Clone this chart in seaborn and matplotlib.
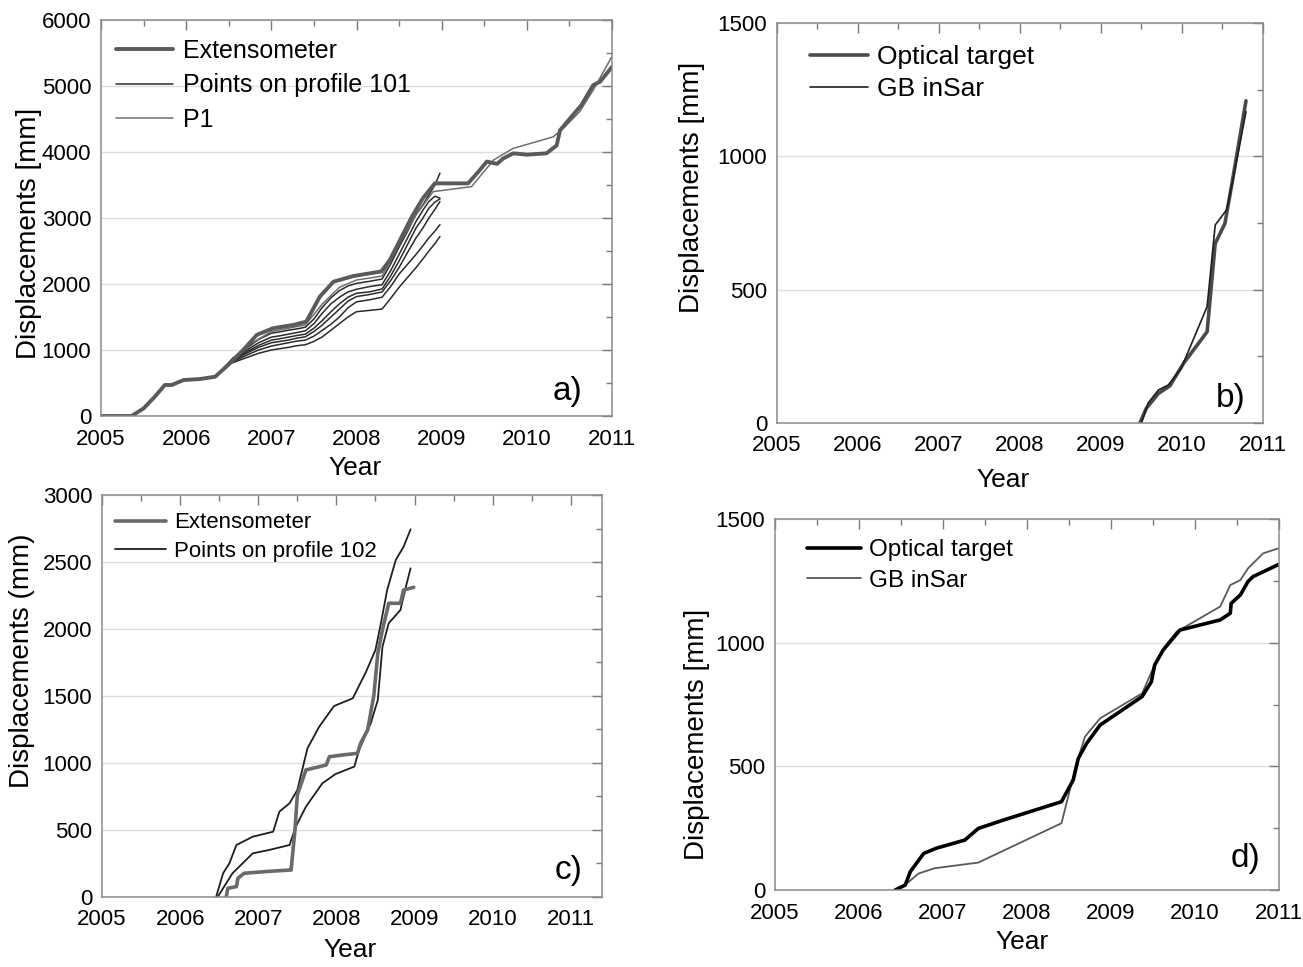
import matplotlib
matplotlib.use("Agg")
import matplotlib.pyplot as plt
import seaborn as sns
from matplotlib.ticker import MultipleLocator
from matplotlib.lines import Line2D

sns.set_theme(style="white")
plt.rcParams["font.family"] = ["Liberation Sans", "DejaVu Sans"]
plt.rcParams["text.color"] = "black"
plt.rcParams["axes.labelcolor"] = "black"
plt.rcParams["xtick.color"] = "black"
plt.rcParams["ytick.color"] = "black"

# ---------------- panel a: extensometer, profile 101, P1 ----------------
ext_a_year = [2005.00, 2005.36, 2005.50, 2005.63, 2005.75, 2005.83, 2005.97, 2006.16,
              2006.34, 2006.49, 2006.67, 2006.83, 2007.02, 2007.26, 2007.41, 2007.57,
              2007.73, 2007.96, 2008.29, 2008.39, 2008.53, 2008.65, 2008.78, 2008.92,
              2009.31, 2009.43, 2009.53, 2009.65, 2009.72, 2009.84, 2010.00, 2010.23,
              2010.35, 2010.39, 2010.54, 2010.64, 2010.78, 2010.86, 2011.00]
ext_a_val = [0, 0, 115, 290, 470, 470, 545, 560,
             595, 770, 1000, 1230, 1330, 1380, 1430, 1810,
             2035, 2120, 2190, 2360, 2715, 3020, 3300, 3525,
             3525, 3700, 3855, 3820, 3900, 3980, 3960, 3980,
             4100, 4330, 4560, 4710, 5015, 5065, 5290]

prof101_year = [2006.45, 2006.55, 2006.70, 2006.85, 2007.00, 2007.10, 2007.20, 2007.30,
                2007.40, 2007.50, 2007.60, 2007.70, 2007.80, 2007.90, 2008.00, 2008.15,
                2008.30, 2008.40, 2008.50, 2008.60, 2008.70, 2008.78, 2008.85, 2008.92,
                2008.98]
prof101_1 = [740, 880, 1020, 1160, 1255, 1275, 1300, 1320, 1345, 1470, 1650, 1790, 1900,
             1970, 2010, 2040, 2075, 2300, 2560, 2800, 3060, 3200, 3350, 3500, 3680]
prof101_2 = [740, 860, 990, 1110, 1195, 1215, 1240, 1265, 1290, 1400, 1560, 1700, 1800,
             1880, 1920, 1960, 1990, 2200, 2450, 2700, 2950, 3120, 3250, 3330, 3300]
prof101_3 = [740, 850, 965, 1070, 1150, 1170, 1195, 1220, 1240, 1330, 1450, 1580, 1700,
             1800, 1860, 1880, 1925, 2120, 2350, 2600, 2850, 3000, 3150, 3240, 3290]
prof101_4 = [740, 840, 945, 1040, 1110, 1130, 1150, 1180, 1200, 1280, 1380, 1500, 1620,
             1740, 1810, 1840, 1880, 2050, 2250, 2480, 2700, 2850, 3000, 3130, 3250]
prof101_5 = [740, 825, 915, 1000, 1060, 1085, 1110, 1135, 1150, 1210, 1300, 1390, 1500,
             1640, 1730, 1760, 1800, 1960, 2150, 2300, 2450, 2580, 2700, 2800, 2900]
prof101_6 = [740, 810, 880, 950, 1000, 1020, 1040, 1065, 1080, 1130, 1200, 1300, 1400,
             1500, 1580, 1600, 1620, 1780, 1950, 2100, 2250, 2380, 2500, 2610, 2720]

p1_year = [2005.00, 2005.36, 2005.50, 2005.63, 2005.75, 2005.83, 2005.97, 2006.16,
           2006.34, 2006.49, 2006.70, 2007.00, 2007.40, 2007.60, 2007.80, 2008.00,
           2008.30, 2008.50, 2008.70, 2008.90, 2009.35, 2009.61, 2009.84, 2010.31,
           2010.43, 2010.62, 2010.78, 2011.00]
p1_val = [0, 0, 115, 290, 470, 470, 545, 560,
          595, 770, 1050, 1280, 1380, 1700, 1950, 2060,
          2120, 2600, 3050, 3400, 3475, 3880, 4055, 4230,
          4360, 4610, 4940, 5450]

# ---------------- panel b: optical target vs GB InSAR ----------------
opt_b_year = [2009.48, 2009.56, 2009.71, 2009.85, 2010.02, 2010.31, 2010.41, 2010.53, 2010.61, 2010.79]
opt_b_val = [0, 55, 111, 139, 224, 342, 673, 748, 886, 1208]
gb_b_year = [2009.50, 2009.58, 2009.71, 2009.83, 2009.99, 2010.31, 2010.41, 2010.55, 2010.63, 2010.79]
gb_b_val = [0, 74, 124, 142, 205, 436, 742, 799, 911, 1167]

# ---------------- panel c: extensometer, profile 102 ----------------
ext_c_year = [2006.59, 2006.61, 2006.72, 2006.74, 2006.82, 2007.10, 2007.40, 2007.42,
              2007.47, 2007.50, 2007.61, 2007.78, 2007.87, 2007.91, 2008.08, 2008.27,
              2008.31, 2008.40, 2008.48, 2008.53, 2008.59, 2008.67, 2008.82, 2008.86, 2008.99]
ext_c_val = [0, 65, 77, 140, 177, 190, 201, 201,
             500, 761, 948, 972, 985, 1047, 1060, 1072,
             1147, 1246, 1507, 1818, 1993, 2192, 2192, 2291, 2311]

prof102_1_year = [2006.46, 2006.55, 2006.63, 2006.72, 2006.93, 2007.19, 2007.27, 2007.40,
                  2007.50, 2007.63, 2007.78, 2007.97, 2008.21, 2008.38, 2008.50, 2008.57,
                  2008.65, 2008.76, 2008.86, 2008.95]
prof102_1_val = [0, 177, 251, 388, 450, 487, 637, 699,
                 798, 1110, 1271, 1425, 1483, 1681, 1843, 2043,
                 2291, 2515, 2614, 2744]
prof102_2_year = [2006.48, 2006.67, 2006.93, 2007.14, 2007.40, 2007.48, 2007.61, 2007.82,
                  2007.99, 2008.23, 2008.29, 2008.44, 2008.53, 2008.59, 2008.67, 2008.82,
                  2008.89, 2008.95]
prof102_2_val = [0, 177, 326, 351, 388, 525, 674, 848,
                 918, 973, 1097, 1296, 1470, 1868, 2043, 2142,
                 2316, 2453]

# ---------------- panel d: optical target vs GB InSAR ----------------
opt_d_year = [2006.43, 2006.55, 2006.61, 2006.77, 2006.92, 2007.26, 2007.42, 2007.72,
              2008.41, 2008.55, 2008.61, 2008.71, 2008.87, 2009.37, 2009.48, 2009.52,
              2009.62, 2009.82, 2010.30, 2010.42, 2010.43, 2010.54, 2010.63, 2010.69, 2011.00]
opt_d_val = [0, 20, 74, 148, 169, 202, 249, 283,
             357, 445, 532, 593, 667, 782, 842, 910,
             970, 1051, 1092, 1119, 1159, 1193, 1247, 1267, 1317]
gb_d_year = [2006.43, 2006.57, 2006.71, 2006.90, 2007.42, 2008.41, 2008.59, 2008.69,
             2008.87, 2009.37, 2009.51, 2009.64, 2009.78, 2010.30, 2010.42, 2010.54,
             2010.63, 2010.81, 2011.00]
gb_d_val = [0, 27, 67, 88, 111, 270, 512, 620,
            694, 795, 903, 984, 1044, 1146, 1233, 1253,
            1300, 1361, 1382]

YEAR_TICKS = [2005, 2006, 2007, 2008, 2009, 2010, 2011]


def line(ax, x, y, color, lw):
    sns.lineplot(x=x, y=y, ax=ax, color=color, linewidth=lw, sort=False,
                 estimator=None, legend=False, label="_nolegend_")


def style(ax, xmax, ymax, ymajor, yminor, ylabel, ylab_xy, xlab_xy):
    ax.set_xlim(2005, xmax)
    ax.set_ylim(0, ymax)
    ax.set_xticks(YEAR_TICKS)
    ax.set_xticklabels([str(t) for t in YEAR_TICKS])
    ax.xaxis.set_minor_locator(MultipleLocator(0.5))
    ax.yaxis.set_major_locator(MultipleLocator(ymajor))
    ax.yaxis.set_minor_locator(MultipleLocator(yminor))
    ax.tick_params(which="both", direction="in", top=True, right=True,
                   color="#7a7a7a", labelsize=16, labelcolor="black")
    ax.tick_params(which="major", length=7, width=1)
    ax.tick_params(which="minor", length=4, width=1)
    ax.tick_params(axis="x", pad=9)
    ax.tick_params(axis="y", pad=7)
    ax.grid(axis="y", which="major", color="#dedede", linewidth=1)
    ax.grid(axis="x", visible=False)
    for s in ax.spines.values():
        s.set_color("#8a8a8a")
        s.set_linewidth(1.1)
    ax.set_ylabel(ylabel, fontsize=20)
    ax.yaxis.set_label_coords(*ylab_xy)
    ax.yaxis.label.set_verticalalignment("center")
    ax.set_xlabel("Year", fontsize=19)
    ax.xaxis.set_label_coords(*xlab_xy)
    ax.xaxis.label.set_verticalalignment("center")


fig = plt.figure(figsize=(13.03, 9.67), dpi=100)
ax_a = fig.add_axes([0.0775, 0.5698, 0.3922, 0.4095])
ax_b = fig.add_axes([0.5963, 0.5626, 0.3730, 0.4137])
ax_c = fig.add_axes([0.0783, 0.0724, 0.3837, 0.4157])
ax_d = fig.add_axes([0.5948, 0.0796, 0.3868, 0.3837])

# panel a
ext_col_a, prof_col, p1_col = "#5a5a5a", "#2b2b2b", "#6e6e6e"
for vals in [prof101_1, prof101_2, prof101_3, prof101_4, prof101_5, prof101_6]:
    line(ax_a, prof101_year, vals, prof_col, 1.1)
line(ax_a, p1_year, p1_val, p1_col, 1.1)
line(ax_a, ext_a_year, ext_a_val, ext_col_a, 2.8)
style(ax_a, 2011, 6000, 1000, 500, "Displacements [mm]", (-0.14, 0.46), (0.497, -0.131))
ax_a.legend(handles=[Line2D([], [], color=ext_col_a, lw=2.8),
                     Line2D([], [], color=prof_col, lw=1.1),
                     Line2D([], [], color=p1_col, lw=1.1)],
            labels=["Extensometer", "Points on profile 101", "P1"],
            loc="upper left", bbox_to_anchor=(0.0, 0.99), frameon=False, fontsize=18,
            borderaxespad=0.2, handlelength=2.3, handletextpad=0.4, labelspacing=0.42)
ax_a.text(0.9125, 0.061, "a)", transform=ax_a.transAxes, fontsize=24,
          ha="center", va="center")

# panel b
opt_col_b, gb_col_b = "#4a4a4a", "#1e1e1e"
line(ax_b, opt_b_year, opt_b_val, opt_col_b, 2.6)
line(ax_b, gb_b_year, gb_b_val, gb_col_b, 1.2)
style(ax_b, 2011, 1500, 500, 250, "Displacements [mm]", (-0.175, 0.59), (0.465, -0.1425))
ax_b.legend(handles=[Line2D([], [], color=opt_col_b, lw=2.6),
                     Line2D([], [], color=gb_col_b, lw=1.2)],
            labels=["Optical target", "GB inSar"],
            loc="upper left", bbox_to_anchor=(0.035, 0.985), frameon=False, fontsize=19,
            borderaxespad=0.2, handlelength=2.2, handletextpad=0.33, labelspacing=0.33)
ax_b.text(0.933, 0.06, "b)", transform=ax_b.transAxes, fontsize=24,
          ha="center", va="center")

# panel c
ext_col_c, prof_col_c = "#6a6a6a", "#1e1e1e"
line(ax_c, prof102_1_year, prof102_1_val, prof_col_c, 1.3)
line(ax_c, prof102_2_year, prof102_2_val, prof_col_c, 1.3)
line(ax_c, ext_c_year, ext_c_val, ext_col_c, 2.6)
style(ax_c, 2011.4, 3000, 500, 250, "Displacements (mm)", (-0.16, 0.587), (0.496, -0.132))
ax_c.legend(handles=[Line2D([], [], color=ext_col_c, lw=2.6),
                     Line2D([], [], color=prof_col_c, lw=1.3)],
            labels=["Extensometer", "Points on profile 102"],
            loc="upper left", bbox_to_anchor=(0.0, 0.99), frameon=False, fontsize=16,
            borderaxespad=0.2, handlelength=2.3, handletextpad=0.35, labelspacing=0.33)
ax_c.text(0.934, 0.067, "c)", transform=ax_c.transAxes, fontsize=24,
          ha="center", va="center")

# panel d
opt_col_d, gb_col_d = "#000000", "#595959"
line(ax_d, gb_d_year, gb_d_val, gb_col_d, 1.3)
line(ax_d, opt_d_year, opt_d_val, opt_col_d, 2.6)
style(ax_d, 2011, 1500, 500, 250, "Displacements [mm]", (-0.155, 0.42), (0.49, -0.14))
ax_d.legend(handles=[Line2D([], [], color=opt_col_d, lw=2.6),
                     Line2D([], [], color=gb_col_d, lw=1.3)],
            labels=["Optical target", "GB inSar"],
            loc="upper left", bbox_to_anchor=(0.035, 0.985), frameon=False, fontsize=17.5,
            borderaxespad=0.2, handlelength=2.2, handletextpad=0.35, labelspacing=0.36)
ax_d.text(0.933, 0.085, "d)", transform=ax_d.transAxes, fontsize=24,
          ha="center", va="center")

fig.savefig("out.png", dpi=100, facecolor="white")
